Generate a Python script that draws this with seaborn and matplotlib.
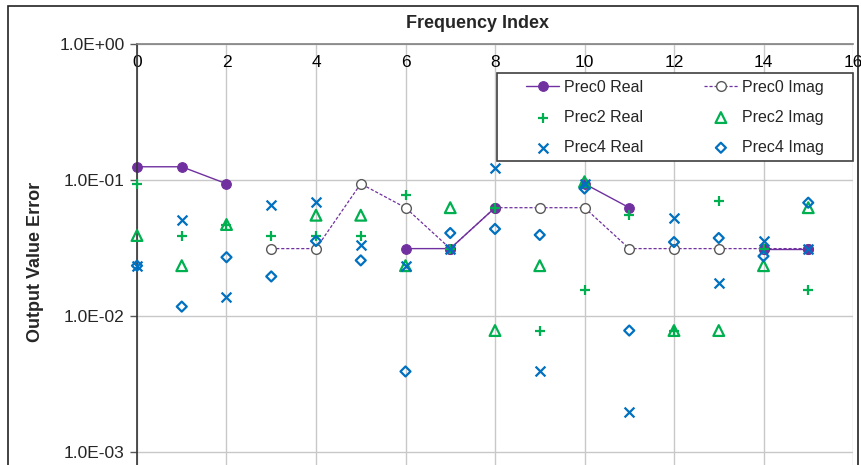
import numpy as np
import pandas as pd
import matplotlib
matplotlib.use("Agg")
import matplotlib.pyplot as plt
import matplotlib.ticker as mticker
from matplotlib.patches import Rectangle
import seaborn as sns

nan = np.nan

# Frequency index (x) and output value error for every series
freq = list(range(16))
p0_real = [0.125, 0.125, 0.09375, nan, nan, nan, 0.03125, 0.03125,
           0.0625, nan, 0.09375, 0.0625, nan, nan, 0.03125, 0.03125]
p0_imag = [nan, nan, nan, 0.03125, 0.03125, 0.09375, 0.0625, 0.03125,
           0.0625, 0.0625, 0.0625, 0.03125, 0.03125, 0.03125, 0.03125, 0.03125]
p2_real = [0.09375, 0.039, 0.047, 0.039, 0.039, 0.039, 0.078, 0.03125,
           0.0625, 0.0078, 0.0156, 0.055, 0.0078, 0.0704, 0.03125, 0.0156]
p2_imag = [0.039, 0.0234, 0.047, nan, 0.055, 0.055, 0.0234, 0.0625,
           0.0078, 0.0234, 0.097, nan, 0.0078, 0.0078, 0.0234, 0.0625]
p4_real = [0.0234, 0.0508, 0.0138, 0.0658, 0.0692, 0.0331, 0.0234, 0.03125,
           0.122, 0.0039, 0.09375, 0.00195, 0.0526, 0.0176, 0.0355, 0.03125]
p4_imag = [0.0234, 0.0117, 0.027, 0.0195, 0.0355, 0.0256, 0.0039, 0.0407,
           0.0436, 0.0394, 0.0865, 0.0078, 0.0349, 0.0374, 0.0275, 0.068]

PURPLE = "#7030A0"
GREEN = "#00B050"
BLUE = "#0070C0"


def segments(x, y):
    # split a series into runs without gaps so lines break at missing values
    df = pd.DataFrame({"x": x, "y": y})
    df["seg"] = df["y"].isna().cumsum()
    df = df.dropna()
    return [g for _, g in df.groupby("seg")]


sns.set_theme(style="white")
plt.rcParams["font.family"] = ["Liberation Sans", "DejaVu Sans"]

fig = plt.figure(figsize=(8.62, 4.65), dpi=100)
ax = fig.add_axes([137 / 862, 0.0, (853 - 137) / 862, 1 - 44 / 465])

# Prec0 lines
for i, seg in enumerate(segments(freq, p0_imag)):
    sns.lineplot(data=seg, x="x", y="y", ax=ax, color=PURPLE, lw=0.9,
                 linestyle=(0, (2.5, 1.5)), marker="o", markersize=7,
                 markerfacecolor="white", markeredgecolor="#595959",
                 markeredgewidth=1.0, clip_on=False,
                 label="Prec0 Imag" if i == 0 else "_nolegend_")
for i, seg in enumerate(segments(freq, p0_real)):
    sns.lineplot(data=seg, x="x", y="y", ax=ax, color=PURPLE, lw=1.0,
                 marker="o", markersize=7, markerfacecolor=PURPLE,
                 markeredgecolor=PURPLE, clip_on=False,
                 label="Prec0 Real" if i == 0 else "_nolegend_")

# Prec2 / Prec4 scatter points
sns.scatterplot(x=freq, y=p2_real, ax=ax, marker="+", s=55, color=GREEN,
                linewidth=1.6, label="Prec2 Real", zorder=3, clip_on=False)
sns.scatterplot(x=freq, y=p2_imag, ax=ax, marker="^", s=60, color=GREEN,
                facecolor="none", edgecolor=GREEN, linewidth=1.6,
                label="Prec2 Imag", zorder=3, clip_on=False)
sns.scatterplot(x=freq, y=p4_real, ax=ax, marker="x", s=50, color=BLUE,
                linewidth=1.6, label="Prec4 Real", zorder=3, clip_on=False)
sns.scatterplot(x=freq, y=p4_imag, ax=ax, marker="D", s=26, color=BLUE,
                facecolor="none", edgecolor=BLUE, linewidth=1.6,
                label="Prec4 Imag", zorder=3, clip_on=False)

ax.set_yscale("log")
ax.set_ylim(10 ** -3.097, 1)
ax.set_xlim(0, 16)
ax.set_xticks(range(0, 17, 2))
ax.set_yticks([1e-3, 1e-2, 1e-1, 1e0])
ax.yaxis.set_minor_locator(mticker.NullLocator())
ax.yaxis.set_major_formatter(mticker.FuncFormatter(lambda v, p: f"{v:.1E}"))

ax.xaxis.tick_top()
ax.xaxis.set_label_position("top")
ax.tick_params(axis="x", length=0, pad=-19, labelsize=12.5, colors="black")
ax.tick_params(axis="y", length=5, width=1, pad=4, labelsize=12.5,
               color="#595959", left=True)
ax.grid(True, color="#C8C8C8", lw=1)

for side in ["right", "bottom"]:
    ax.spines[side].set_visible(False)
ax.spines["top"].set_color("#808080")
ax.spines["left"].set_color("#333333")
ax.spines["top"].set_linewidth(1.2)
ax.spines["left"].set_linewidth(1.2)

ax.set_xlabel("Frequency Index", fontsize=13, fontweight="bold")
ax.set_ylabel("Output Value Error", fontsize=13, fontweight="bold")
ax.xaxis.set_label_coords((477 - 137) / 716, 1 + 16 / 417)
ax.yaxis.set_label_coords(-93 / 716, 1 - (260 - 44) / 417)

# legend box (white, framed) with the legend entries centred inside it
box = (0.503, 0.722, 0.497, 0.208)
ax.add_patch(Rectangle(box[:2], box[2], box[3], transform=ax.transAxes,
                       facecolor="white", edgecolor="#404040", lw=1.2,
                       zorder=4, clip_on=False))
handles, labels = ax.get_legend_handles_labels()
lookup = dict(zip(labels, handles))
order = ["Prec0 Real", "Prec2 Real", "Prec4 Real",
         "Prec0 Imag", "Prec2 Imag", "Prec4 Imag"]
leg = ax.legend([lookup[k] for k in order], order, ncol=2,
                loc="center", bbox_to_anchor=(box[0] + box[2] / 2,
                                              box[1] + box[3] / 2),
                borderaxespad=0, fontsize=11.5, frameon=False,
                borderpad=0, labelspacing=0.95, handlelength=2.1,
                handletextpad=0.3, columnspacing=3.8)
leg.set_zorder(5)

# chart border
fig.patches.append(Rectangle((8 / 862, -0.05), 850 / 862, 1.05 - 6 / 465,
                             transform=fig.transFigure, fill=False,
                             edgecolor="#222222", lw=1.2))

fig.savefig("out.png", dpi=100)
